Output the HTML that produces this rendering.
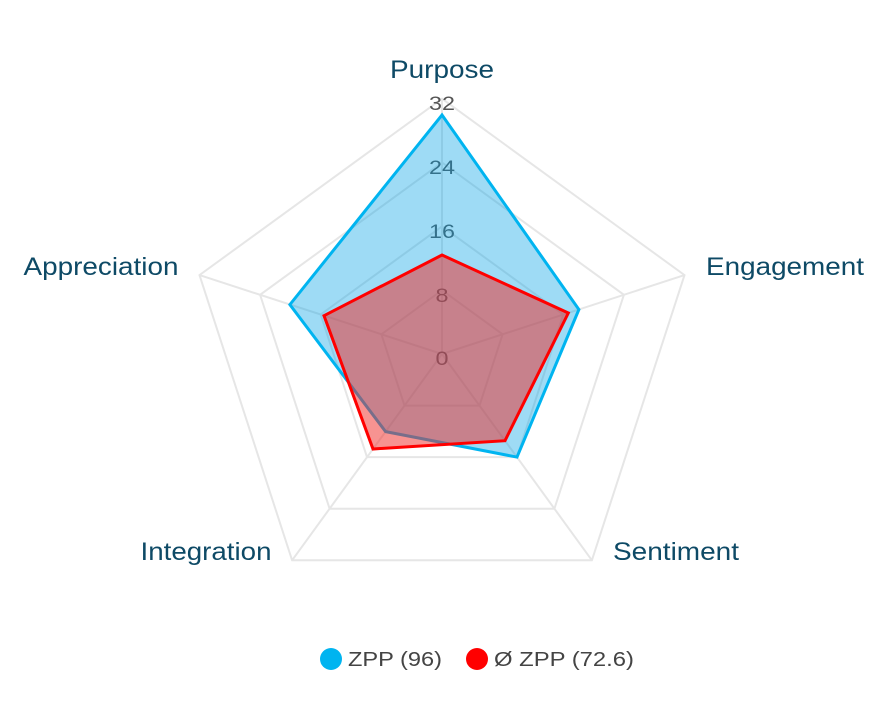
<!DOCTYPE html>
<html><head><meta charset="utf-8"><style>
html,body{margin:0;padding:0;background:#fff;}
svg{display:block;font-family:"Liberation Sans",Arial,sans-serif;}
</style></head><body>
<svg width="890" height="702" viewBox="0 0 890 702" xmlns="http://www.w3.org/2000/svg">
<g fill="none" stroke="#e6e6e6" stroke-width="2">
<polygon points="442,98.7 684.5,275.1 591.9,560.3 292.1,560.3 199.5,275.1"/>
<polygon points="442,162.5 623.9,294.8 554.4,508.7 329.6,508.7 260.1,294.8"/>
<polygon points="442,226.4 563.3,314.5 517,457.1 367,457.1 320.7,314.5"/>
<polygon points="442,290.2 502.6,334.3 479.5,405.6 404.5,405.6 381.4,334.3"/>
<line x1="442" y1="354" x2="442" y2="98.7"/>
<line x1="442" y1="354" x2="684.5" y2="275.1"/>
<line x1="442" y1="354" x2="591.9" y2="560.3"/>
<line x1="442" y1="354" x2="292.1" y2="560.3"/>
<line x1="442" y1="354" x2="199.5" y2="275.1"/>
</g>
<g font-size="19" fill="#555" text-anchor="middle">
<text x="442" y="365" textLength="13" lengthAdjust="spacingAndGlyphs">0</text>
<text x="442" y="302" textLength="13" lengthAdjust="spacingAndGlyphs">8</text>
<text x="442" y="238" textLength="26" lengthAdjust="spacingAndGlyphs">16</text>
<text x="442" y="174" textLength="26" lengthAdjust="spacingAndGlyphs">24</text>
<text x="442" y="110" textLength="26" lengthAdjust="spacingAndGlyphs">32</text>
</g>
<polygon points="442,115 578.9,309.5 517,457.1 385.6,431.6 289.9,304.6" fill="rgba(0,160,230,0.38)" stroke="#00b4f0" stroke-width="3" stroke-linejoin="miter"/>
<polygon points="442,255 568.3,313 505,440.7 373,449 324,315.7" fill="rgba(240,40,35,0.5)" stroke="#ff0000" stroke-width="3" stroke-linejoin="miter"/>
<g font-size="25" fill="#0e4a66" text-anchor="middle">
<text x="442" y="78" textLength="104" lengthAdjust="spacingAndGlyphs">Purpose</text>
<text x="785" y="275" textLength="158" lengthAdjust="spacingAndGlyphs">Engagement</text>
<text x="101" y="275" textLength="155" lengthAdjust="spacingAndGlyphs">Appreciation</text>
<text x="676" y="560" textLength="126" lengthAdjust="spacingAndGlyphs">Sentiment</text>
<text x="206" y="560" textLength="131" lengthAdjust="spacingAndGlyphs">Integration</text>
</g>
<circle cx="331" cy="659" r="11" fill="#00b4f0"/>
<text x="348" y="666" font-size="20" fill="#444" textLength="94" lengthAdjust="spacingAndGlyphs">ZPP (96)</text>
<circle cx="477" cy="659" r="11" fill="#ff0000"/>
<text x="494" y="666" font-size="20" fill="#444" textLength="140" lengthAdjust="spacingAndGlyphs">Ø ZPP (72.6)</text>
</svg>
</body></html>
